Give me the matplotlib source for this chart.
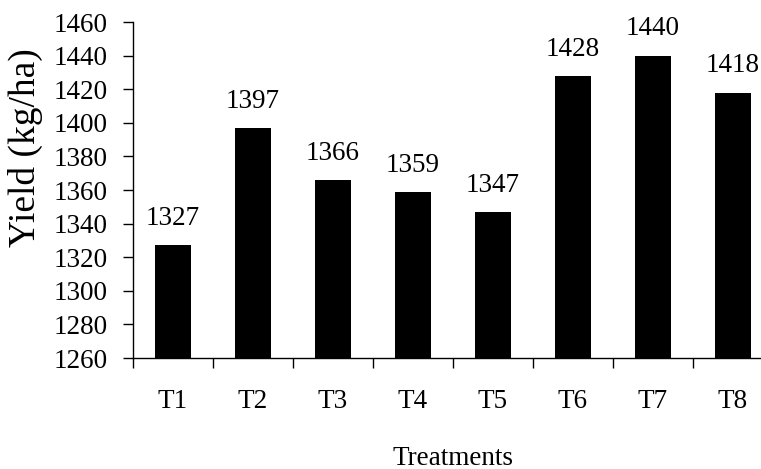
import matplotlib.pyplot as plt
import numpy as np
from matplotlib.transforms import Bbox

treatments = ["T1", "T2", "T3", "T4", "T5", "T6", "T7", "T8"]
yields = [1327, 1397, 1366, 1359, 1347, 1428, 1440, 1418]
yticks = list(range(1260, 1461, 20))

plt.rcParams["font.family"] = ["Liberation Serif", "DejaVu Serif"]

W, H = 761, 469
fig = plt.figure(figsize=(W / 100, H / 100), dpi=100)
ax = fig.add_axes([133 / W, 1 - 358 / H, 640 / W, 336 / H])

x = np.arange(len(treatments))
ax.bar(x, yields, width=0.44, color="black")
ax.set_ylim(1260, 1460)
ax.set_xlim(-0.5, len(treatments) - 0.5)

# value labels above bars
for xi, v in zip(x, yields):
    ax.annotate(str(v), (xi, v), xytext=(0, 14.5), textcoords="offset points",
                ha="center", va="baseline", fontsize=19.5)

ax.set_yticks(yticks)
ax.tick_params(axis="y", direction="out", length=7, width=1, pad=11, labelsize=19.5)
# boundary ticks on x, labels in between
ax.set_xticks(np.arange(-0.5, len(treatments) - 0.5, 1))
ax.set_xticklabels([])
ax.set_xticks(x, minor=True)
ax.set_xticklabels(treatments, minor=True)
ax.tick_params(axis="x", which="major", direction="out", length=7, width=1)
ax.tick_params(axis="x", which="minor", length=0, pad=22, labelsize=19.5)

ax.spines["top"].set_visible(False)
ax.spines["right"].set_visible(False)
ax.spines["left"].set_linewidth(1)
ax.spines["bottom"].set_linewidth(1)

fig.text(453 / W, 1 - 458 / H, "Treatments", ha="center", va="center", fontsize=19.5)
yl = fig.text(25 / W, 1 - 148 / H, "Yield (kg/ha)", rotation=90,
              ha="center", va="center", fontsize=27)
yl.set_clip_box(Bbox([[0, 0], [W, H - 28]]))
yl.set_clip_on(True)

fig.savefig("out.png", dpi=100)
